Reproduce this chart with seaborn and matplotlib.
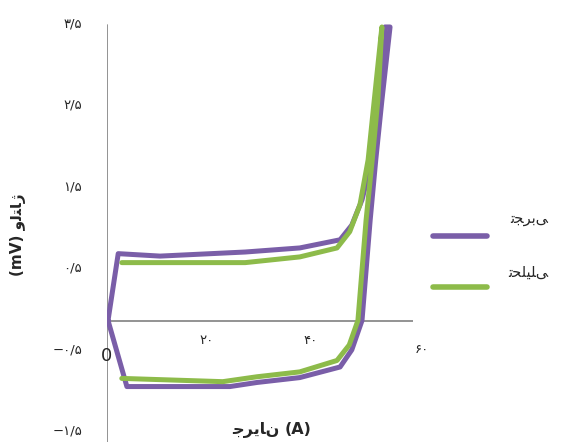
import numpy as np
import pandas as pd
import matplotlib
matplotlib.use("Agg")
import matplotlib.pyplot as plt
import seaborn as sns
from matplotlib.lines import Line2D

sns.set_style("white")
plt.rcParams['font.family'] = ['DejaVu Sans']

# measured loop: experimental (purple) and analytical (green)
exp_x = [0.2, 2.2, 10.4, 27.1, 37.8, 45.7, 48.0, 50.0, 51.6, 52.9, 54.5,
         55.5, 53.9, 52.7, 51.6, 50.0, 48.0, 45.7, 37.8, 29.4, 24.1, 3.9, 0.2]
exp_y = [-0.16, 0.66, 0.63, 0.68, 0.73, 0.83, 1.01, 1.32, 1.72, 2.42, 3.44,
         3.44, 2.54, 1.81, 1.07, -0.16, -0.52, -0.73, -0.86, -0.92, -0.97, -0.97, -0.16]
ana_x = [2.9, 27.1, 37.8, 45.1, 47.6, 49.6, 51.2, 52.4, 53.9,
         53.1, 52.0, 50.8, 49.2, 47.5, 45.1, 37.8, 29.4, 22.7, 2.9]
ana_y = [0.55, 0.55, 0.62, 0.73, 0.93, 1.26, 1.81, 2.54, 3.44,
         2.54, 1.81, 1.07, -0.16, -0.46, -0.65, -0.79, -0.85, -0.91, -0.87]

# Persian labels (shaped presentation forms, logical order)
lab_exp = "\uFE97\uFEA0\uFEAE\uFE91\uFEF0"            # تجربی
lab_ana = "\uFE97\uFEA4\uFEE0\uFEF4\uFEE0\uFEF0"      # تحلیلی
ylab = "(mV) \uFEED\uFEDF\uFE98\uFE8E\uFB8A"          # ولتاژ (mV)
xlab_word = "\uFE9F\uFEAE\uFEF3\uFE8E\uFEE5"          # جریان
xlab_unit = "(A)"
yticks = [3.5, 2.5, 1.5, 0.5, -0.5, -1.5]
ytick_labels = ["۳/۵", "۲/۵", "۱/۵", "۰/۵", "−۰/۵", "−۱/۵"]
xticks = [0, 20, 40, 60]
xtick_labels = ["0", "۲۰", "۴۰", "۶۰"]

df = pd.concat([
    pd.DataFrame({"x": exp_x, "y": exp_y, "s": lab_exp}),
    pd.DataFrame({"x": ana_x, "y": ana_y, "s": lab_ana}),
])
colors = {lab_exp: "#7a5ea8", lab_ana: "#8dbb4a"}

W, H = 571, 442
fig = plt.figure(figsize=(5.71, 4.42), dpi=100)
ax = fig.add_axes([107 / W, 0, 306 / W, 424 / H])

sns.lineplot(data=df, x="x", y="y", hue="s", sort=False, estimator=None,
             palette=colors, linewidth=3.6, legend=False, ax=ax)

ax.set_xlim(0, 60)
ax.set_ylim(-1.65, 3.55)
for s in ax.spines.values():
    s.set_visible(False)
ax.axvline(0, ymin=0, ymax=(3.47 + 1.65) / 5.2, color="#8a8a8a", lw=1.3, zorder=0)
ax.axhline(-0.16, color="#8a8a8a", lw=1.3, zorder=0)

ax.set_yticks(yticks)
ax.set_yticklabels(ytick_labels, fontsize=9.5)
ax.tick_params(axis="y", length=0, pad=18)
ax.set_xticks([])
ax.set_xlabel("")
ax.set_ylabel("")

# x labels sit a little off their ticks in the original
xlab_x = [0, 19.5, 40, 61.8]
xlab_y = [-0.6, -0.4, -0.4, -0.52]
for xv, lbl, yv in zip(xlab_x, xtick_labels, xlab_y):
    fs = 13 if lbl == "0" else 9.5
    ax.text(xv, yv, lbl, ha="center", va="center", fontsize=fs, clip_on=False)

fig.text(280 / W, 1 - 430 / H, xlab_word, ha="right", va="center",
         fontsize=11.5, fontweight="bold")
fig.text(285 / W, 1 - 430 / H, xlab_unit, ha="left", va="center",
         fontsize=11.5, fontweight="bold")
fig.text(18 / W, 1 - 235 / H, ylab, ha="center", va="center",
         rotation=90, fontsize=11, fontweight="bold")

# legend
for yy, ty, lbl in [(236, 218, lab_exp), (287, 272, lab_ana)]:
    fig.add_artist(Line2D([433 / W, 487 / W], [1 - yy / H, 1 - yy / H],
                          color=colors[lbl], lw=4, solid_capstyle="round"))
    fig.text(548 / W, 1 - ty / H, lbl, ha="right", va="center", fontsize=10.5)

fig.savefig("out.png", dpi=100)
